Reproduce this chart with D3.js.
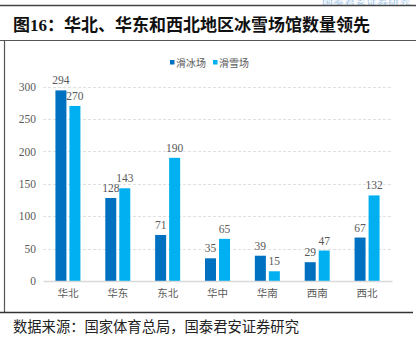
<!DOCTYPE html>
<html><head><meta charset="utf-8">
<script src="https://cdn.jsdelivr.net/npm/d3@7/dist/d3.min.js"></script>
<style>body{margin:0;background:#fff}svg{display:block}</style>
</head><body>
<svg id="c" width="416" height="345"></svg>
<script>
const categories = ["华北","华东","东北","华中","华南","西南","西北"];
const seriesNames = ["滑冰场","滑雪场"];
const iceRinks = [294,128,71,35,39,29,67];
const skiResorts = [270,143,190,65,15,47,132];
const yTicks = [0,50,100,150,200,250,300];
const colors = ["#0070C0","#00B0F0"];

const svg = d3.select("#c");
const serif = "'Liberation Serif','DejaVu Serif',serif";
const cjk = "'Noto Sans CJK SC','Noto Sans',sans-serif";

// header decorations
svg.append("text").attr("x",322).attr("y",4.2).attr("font-family",cjk).attr("font-size",4.5)
  .attr("fill","#9dc3e6").attr("textLength",88).attr("lengthAdjust","spacingAndGlyphs").text("国泰君安证券研究");
svg.append("line").attr("x1",0).attr("x2",416).attr("y1",5.5).attr("y2",5.5).attr("stroke","#444").attr("stroke-width",1.5);
const title = svg.append("text").attr("x",13).attr("y",31).attr("font-size",17).attr("font-weight","bold").attr("fill","#111");
title.append("tspan").attr("font-family",cjk).text("图");
title.append("tspan").attr("font-family",serif).text("16");
title.append("tspan").attr("font-family",cjk).text("：华北、华东和西北地区冰雪场馆数量领先");
svg.append("line").attr("x1",0).attr("x2",416).attr("y1",40.5).attr("y2",40.5).attr("stroke","#555").attr("stroke-width",1);
svg.append("line").attr("x1",4.5).attr("x2",4.5).attr("y1",40).attr("y2",313).attr("stroke","#555").attr("stroke-width",1.2);
svg.append("line").attr("x1",0).attr("x2",413).attr("y1",312.5).attr("y2",312.5).attr("stroke","#333").attr("stroke-width",1.5);
svg.append("text").attr("x",13).attr("y",332).attr("font-family",cjk).attr("font-size",14.3).attr("fill","#222")
  .text("数据来源：国家体育总局，国泰君安证券研究");

// scales
const x = d3.scaleBand().domain(categories).range([43,392]).padding(0);
const y = d3.scaleLinear().domain([0,300]).range([281,86.5]);
const barW = 11, gap = 3;

// grid
svg.append("g").selectAll("line").data(yTicks.filter(t=>t>0)).join("line")
  .attr("x1",43).attr("x2",392).attr("y1",d=>Math.round(y(d))+0.5).attr("y2",d=>Math.round(y(d))+0.5)
  .attr("stroke","#e0e0e0").attr("stroke-dasharray","3,2");

// y axis
const yAxis = svg.append("g").attr("transform","translate(36,0)")
  .call(d3.axisLeft(y).tickValues(yTicks).tickSize(0).tickPadding(0));
yAxis.select(".domain").remove();
yAxis.selectAll("text").attr("font-family",serif).attr("font-size",11.5).attr("fill","#595959");

// bars
const series = [iceRinks, skiResorts];
series.forEach((vals,si)=>{
  const off = si===0 ? -(barW+gap/2) : gap/2;
  const g = svg.append("g");
  g.selectAll("rect").data(vals).join("rect")
    .attr("x",(d,i)=>x(categories[i])+x.bandwidth()/2+off)
    .attr("width",barW)
    .attr("y",d=>y(d)).attr("height",d=>y(0)-y(d))
    .attr("fill",colors[si]);
  g.selectAll("text").data(vals).join("text")
    .attr("x",(d,i)=>x(categories[i])+x.bandwidth()/2+off+barW/2)
    .attr("y",d=>y(d)-6)
    .attr("text-anchor","middle").attr("font-family",serif).attr("font-size",11.5).attr("fill","#595959")
    .text(d=>d);
});

// x axis
const xAxis = svg.append("g").attr("transform","translate(0,281)")
  .call(d3.axisBottom(x).tickSize(0).tickPadding(9));
xAxis.select(".domain").attr("stroke","#d9d9d9").attr("stroke-width",1.5);
xAxis.selectAll("text").attr("font-family",cjk).attr("font-size",10.5).attr("fill","#595959");

// legend
const leg = svg.append("g");
const legX = [170,213];
seriesNames.forEach((n,i)=>{
  leg.append("rect").attr("x",legX[i]).attr("y",60).attr("width",4.5).attr("height",4.5).attr("fill",colors[i]);
  leg.append("text").attr("x",legX[i]+6).attr("y",66.5).attr("font-family",cjk).attr("font-size",10).attr("fill","#595959").text(n);
});
</script>
</body></html>
